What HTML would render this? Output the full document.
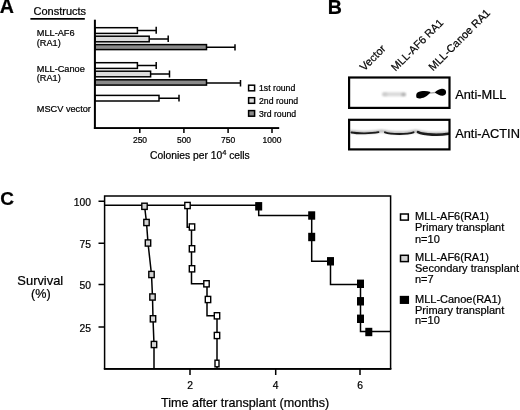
<!DOCTYPE html>
<html><head><meta charset="utf-8">
<style>
html,body{margin:0;padding:0;background:#fff;}
body{width:520px;height:410px;overflow:hidden;position:relative;}
svg{position:absolute;left:0;top:0;display:block;}
text{font-family:"Liberation Sans",Arial,sans-serif;fill:#000;stroke:#000;stroke-width:0.22px;}
.b{font-weight:bold;}
</style></head><body>
<svg width="520" height="410" viewBox="0 0 520 410">
<defs>
<filter id="bl1" x="-20%" y="-100%" width="140%" height="300%"><feGaussianBlur stdDeviation="1.2"/></filter>
<filter id="bl2" x="-20%" y="-100%" width="140%" height="300%"><feGaussianBlur stdDeviation="0.7"/></filter>
<filter id="bl3" x="-20%" y="-100%" width="140%" height="300%"><feGaussianBlur stdDeviation="1.6"/></filter>
</defs>
<rect width="520" height="410" fill="#fff"/>

<!-- Panel A -->
<text class="b" x="-0.2" y="13.4" font-size="19.6">A</text>
<text x="33.5" y="15" font-size="11">Constructs</text>
<rect x="30.4" y="18" width="54.4" height="1.7" fill="#000"/>
<text x="36.8" y="36.3" font-size="9.2">MLL-AF6</text>
<text x="36.8" y="45.5" font-size="9.2">(RA1)</text>
<text x="36.8" y="72" font-size="9.2">MLL-Canoe</text>
<text x="36.8" y="81.2" font-size="9.2">(RA1)</text>
<text x="36.8" y="111.8" font-size="9.2">MSCV vector</text>

<g stroke="#000" stroke-width="1.5" fill="none">
<!-- error bars -->
<path d="M138 30.5H156.2M156.2 26.8V33.8"/>
<path d="M149 39H168.2M168.2 35.4V42"/>
<path d="M207 47.2H235M235 44.2V50.6"/>
<path d="M138 65.5H156.2M156.2 62V69"/>
<path d="M151 74H169.5M169.5 70.5V77.5"/>
<path d="M207 83H240.5M240.5 80V86.4"/>
<path d="M159 98.2H179M179 94.8V101.6"/>
<!-- bars -->
<rect x="95" y="27.7" width="42.4" height="5.7" fill="#fff"/>
<rect x="95" y="36.2" width="54.2" height="5.6" fill="#dcdcdc"/>
<rect x="95" y="44.6" width="111.5" height="5" fill="#8a8a8a"/>
<rect x="95" y="62.7" width="42.4" height="5.7" fill="#fff"/>
<rect x="95" y="71.2" width="55.6" height="5.6" fill="#dcdcdc"/>
<rect x="95" y="79.8" width="111.5" height="5.3" fill="#8a8a8a"/>
<rect x="95" y="95.4" width="64" height="5.6" fill="#fff"/>
</g>
<!-- axes -->
<rect x="93.9" y="19.7" width="2" height="109.3" fill="#000"/>
<rect x="93.9" y="127.1" width="185.3" height="1.9" fill="#000"/>
<g stroke="#000" stroke-width="1.5">
<path d="M139.8 128V133M183.9 128V133M228.1 128V133M272 128V133"/>
</g>
<g font-size="8.5" text-anchor="middle">
<text x="140" y="143.2">250</text>
<text x="184" y="143.2">500</text>
<text x="228.2" y="143.2">750</text>
<text x="272" y="143.2">1000</text>
</g>
<text x="150" y="158.6" font-size="10.3">Colonies per 10<tspan font-size="7.5" dy="-3.2">4</tspan><tspan dy="3.2"> cells</tspan></text>
<!-- legend A -->
<g stroke="#000" stroke-width="1.5">
<rect x="248.6" y="85.2" width="6" height="5.6" fill="#fff"/>
<rect x="248.6" y="97.7" width="6" height="5.6" fill="#dcdcdc"/>
<rect x="248.6" y="110.6" width="6" height="5.6" fill="#8a8a8a"/>
</g>
<g font-size="8.7">
<text x="259" y="91.3">1st round</text>
<text x="259" y="103.9">2nd round</text>
<text x="259" y="116.8">3rd round</text>
</g>

<!-- Panel B -->
<text class="b" x="327.8" y="13.5" font-size="19.6">B</text>
<g font-size="11">
<text transform="translate(364.3,71.5) rotate(-45)">Vector</text>
<text transform="translate(395.6,71.8) rotate(-45)" font-size="10.8">MLL-AF6 RA1</text>
<text transform="translate(433,71.5) rotate(-45)">MLL-Canoe RA1</text>
</g>
<clipPath id="c1"><rect x="349" y="77.4" width="100.4" height="30.6"/></clipPath>
<clipPath id="c2"><rect x="349" y="119.8" width="100.6" height="29.6"/></clipPath>
<g clip-path="url(#c1)">
<rect x="382" y="92.2" width="24" height="4" rx="2" fill="#d9d9d9" filter="url(#bl1)"/>
<ellipse cx="403.5" cy="94.4" rx="2.2" ry="1.5" fill="#ababab" filter="url(#bl1)"/>
<ellipse cx="385" cy="94.2" rx="2.5" ry="1.5" fill="#c8c8c8" filter="url(#bl1)"/>
<path d="M428 93.4L437 92.2" stroke="#aaa" stroke-width="1.4" filter="url(#bl2)"/>
<g filter="url(#bl2)" fill="#000">
<path d="M416.2 95.2C416 93 418.3 91.7 421 91.3C424 90.8 427.5 90.9 430.6 91.9C429.2 94 427.5 95.6 425 96.9C422 98.3 419 98.8 417.2 98.1C416.3 97.6 416.2 96.4 416.2 95.2Z"/>
<path d="M434.8 92.4C436.8 90.6 439 89.2 441.7 88.8C444.4 88.5 446.1 90 446.1 92C446.1 94 445 95.5 442.7 95.7C440 95.9 437.6 94.4 434.8 92.4Z"/>
</g>
</g>
<g clip-path="url(#c2)">
<g filter="url(#bl1)" stroke="#b0b0b0" stroke-width="2.6" fill="none" stroke-linecap="round">
<path d="M351 131.6C356 132.8 372 132.8 379 131.2C381 131 383 131 385 131.4C392 133.2 406 133.4 413 131.6C415 131 416.5 131 418 131.6C426 134 440 134 448 132.8"/>
</g>
<g filter="url(#bl2)" stroke="#1a1a1a" fill="none" stroke-linecap="round">
<path d="M351.5 132.5C357 133.6 371 133.7 378.5 132.2" stroke-width="1.8"/>
<path d="M385 132.4C391 134.5 407 134.6 413.5 132.4" stroke-width="2"/>
<path d="M418 132.2C424 135.2 440 135.2 448.5 133.8" stroke-width="2.6"/>
</g>
</g>
<rect x="349.1" y="77.5" width="100.4" height="30.4" fill="none" stroke="#000" stroke-width="2.2"/>
<rect x="349.1" y="119.8" width="100.4" height="29.6" fill="none" stroke="#000" stroke-width="2.2"/>
<text x="455.2" y="98.7" font-size="12.8">Anti-MLL</text>
<text x="455.2" y="138.3" font-size="12.8">Anti-ACTIN</text>

<!-- Panel C -->
<text class="b" x="0.2" y="204.6" font-size="19">C</text>
<text x="40.3" y="284.6" font-size="12.9" text-anchor="middle">Survival</text>
<text x="40.8" y="297.6" font-size="12.6" text-anchor="middle">(%)</text>
<g font-size="10.3" text-anchor="end">
<text x="91" y="205.6">100</text>
<text x="91" y="247.5">75</text>
<text x="91" y="289">50</text>
<text x="91" y="331.5">25</text>
</g>
<g stroke="#000" stroke-width="1.5" fill="none">
<path d="M98.5 201.2H104.5M98.5 243.2H104.5M98.5 284.6H104.5M98.5 327H104.5"/>
<path d="M190 369V375M275.7 369V375M360 369V375"/>
<path d="M104.6 369V196.1H390.6V369.1"/>
</g>
<rect x="103.8" y="368" width="287.6" height="1.9" fill="#000"/>
<g font-size="10.3" text-anchor="middle">
<text x="190" y="388.8">2</text>
<text x="275.7" y="388.8">4</text>
<text x="360" y="388.8">6</text>
</g>
<text x="161" y="407" font-size="12.6">Time after transplant (months)</text>

<!-- survival lines -->
<g stroke="#000" stroke-width="1.5" fill="none" stroke-linejoin="miter">
<path d="M104.6 205.3H258.7V215.5H311.7V261.3H330.5V284.5H360.5V331.6H390.6"/>
<path d="M187.2 205.5V227.2H191.5V283.8H207V315.8H217V369"/>
<path d="M144.5 205.5L146.5 222.5L148 243L151.5 274.5L152.5 297L153 318.8L154 344.5V369"/>
</g>
<!-- markers -->
<g stroke="#000" stroke-width="1.4">
<g fill="#d4d4d4">
<rect x="141.8" y="203.2" width="5.4" height="6.2"/>
<rect x="143.8" y="219.4" width="5.4" height="6.2"/>
<rect x="145.3" y="239.9" width="5.4" height="6.2"/>
<rect x="148.8" y="271.4" width="5.4" height="6.2"/>
<rect x="149.8" y="293.9" width="5.4" height="6.2"/>
<rect x="150.3" y="315.7" width="5.4" height="6.2"/>
<rect x="151.3" y="341.4" width="5.4" height="6.2"/>
</g>
<g fill="#fff">
<rect x="184.8" y="202.4" width="5.4" height="6.2"/>
<rect x="189.3" y="223.9" width="5.4" height="6.2"/>
<rect x="189.3" y="245.7" width="5.4" height="6.2"/>
<rect x="189.3" y="265.7" width="5.4" height="6.2"/>
<rect x="203.8" y="280.7" width="5.4" height="6.2"/>
<rect x="205.3" y="296.4" width="5.4" height="6.2"/>
<rect x="214.3" y="312.7" width="5.4" height="6.2"/>
<rect x="214.3" y="332.4" width="5.4" height="6.2"/>
<rect x="215" y="360.2" width="4" height="6.6"/>
</g>
<g fill="#000">
<rect x="255.9" y="202.8" width="5.6" height="7"/>
<rect x="308.9" y="212" width="5.6" height="7"/>
<rect x="308.9" y="233.5" width="5.6" height="7"/>
<rect x="327.7" y="257.8" width="5.6" height="7"/>
<rect x="357.7" y="280.3" width="5.6" height="7"/>
<rect x="357.7" y="297.8" width="5.6" height="7"/>
<rect x="357.7" y="315.3" width="5.6" height="7"/>
<rect x="366" y="328.5" width="5.6" height="7"/>
</g>
</g>
<!-- legend C -->
<g stroke="#000" stroke-width="1.5">
<rect x="400.5" y="214" width="7.8" height="6.1" fill="#fff"/>
<rect x="400.5" y="255.3" width="7.8" height="6.3" fill="#d4d4d4"/>
<rect x="400.5" y="296.6" width="7.8" height="6.6" fill="#000"/>
</g>
<g font-size="11">
<text x="415" y="220">MLL-AF6(RA1)</text>
<text x="415" y="231.4">Primary transplant</text>
<text x="415" y="242.8">n=10</text>
<text x="415" y="261.3">MLL-AF6(RA1)</text>
<text x="415" y="272">Secondary transplant</text>
<text x="415" y="283">n=7</text>
<text x="415" y="302.7">MLL-Canoe(RA1)</text>
<text x="415" y="313.5">Primary transplant</text>
<text x="415" y="324.3">n=10</text>
</g>
</svg>
</body></html>
